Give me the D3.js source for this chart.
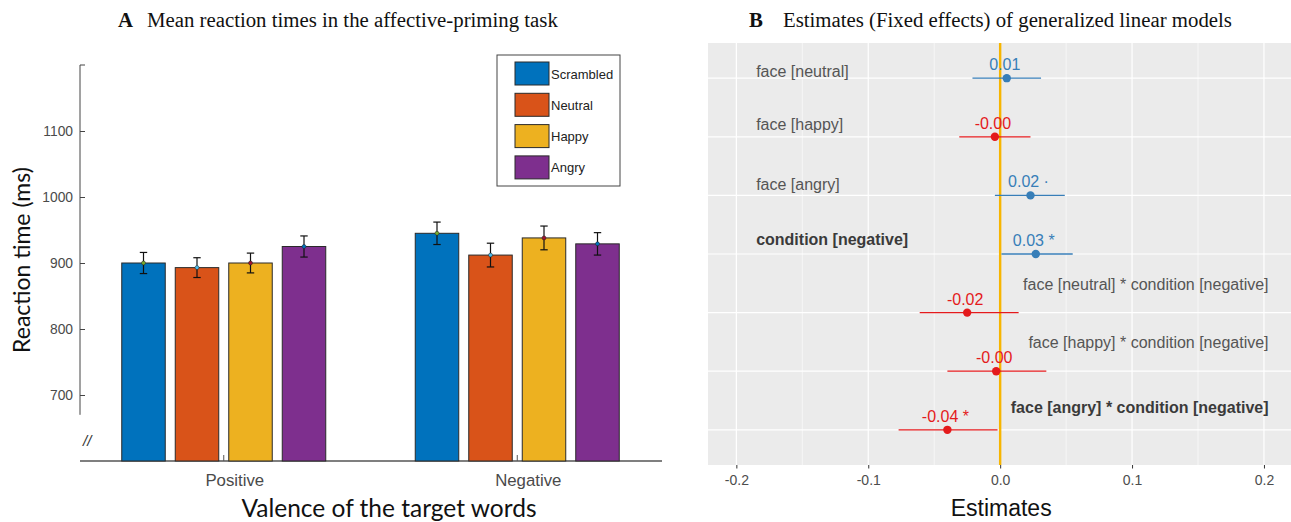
<!DOCTYPE html>
<html>
<head>
<meta charset="utf-8">
<script src="https://cdn.jsdelivr.net/npm/d3@7"></script>
<style>
  body { margin: 0; background: #fff; }
  svg { display: block; }
</style>
</head>
<body>
<svg id="svg_1" width="1291" height="522"></svg>
<script>
// ---- panel A data ----
const groups = ['Positive', 'Negative'];
const conditions = ['Scrambled', 'Neutral', 'Happy', 'Angry'];
const rtPositive = [900, 893, 900, 925];
const rtNegative = [945, 912, 938, 929];
const sePositive = [16, 15, 15, 16];
const seNegative = [17, 18, 18, 17];
const rtTicks = [700, 800, 900, 1000, 1100];

// ---- panel B data ----
const terms = [
  'face [neutral]', 'face [happy]', 'face [angry]', 'condition [negative]',
  'face [neutral] * condition [negative]', 'face [happy] * condition [negative]',
  'face [angry] * condition [negative]'
];
const estimates = [0.005, -0.004, 0.023, 0.027, -0.025, -0.003, -0.040];
const ciLow = [-0.021, -0.031, -0.004, 0.001, -0.061, -0.040, -0.077];
const ciHigh = [0.031, 0.023, 0.049, 0.055, 0.014, 0.035, -0.002];
const estLabels = ['0.01', '-0.00', '0.02 \u00b7', '0.03 *', '-0.02', '-0.00', '-0.04 *'];
const boldTerms = [false, false, false, true, false, false, true];
const estTicks = [-0.2, -0.1, 0, 0.1, 0.2];
const estMinor = [-0.15, -0.05, 0.05, 0.15];

const svg = d3.select('#svg_1');
const sans = "'Liberation Sans', Arial, sans-serif";
const serif = "'Liberation Serif', 'Times New Roman', serif";

function barChart() {
  const barColor = d3.scaleOrdinal().domain(conditions)
    .range(['#0072BD', '#D95319', '#EDB120', '#7E2F8E']);
  const dotColor = d3.scaleOrdinal().domain(conditions)
    .range(['#77AC30', '#4DBEEE', '#A2142F', '#0072BD']);

  const rows = [];
  groups.forEach((gName, i) => {
    const vals = i === 0 ? rtPositive : rtNegative;
    const ses = i === 0 ? sePositive : seNegative;
    conditions.forEach((c, j) => rows.push({group: gName, cond: c, rt: vals[j], se: ses[j]}));
  });

  const x = d3.scaleBand().domain(groups).range([77, 664]);
  const xIn = d3.scaleBand().domain(conditions).range([-102, 102]).paddingInner(0.187);
  const y = d3.scaleLinear().domain([600, 1200]).range([461, 65]);

  const g = svg.append('g');

  // y axis with break
  const yAxisG = g.append('g')
    .attr('transform', 'translate(80,0)')
    .call(d3.axisLeft(y).tickValues(rtTicks).tickFormat(d3.format('d'))
      .tickSizeInner(-5).tickSizeOuter(0).tickPadding(7));
  yAxisG.select('.domain').remove();
  yAxisG.selectAll('.tick line').attr('stroke', '#444');
  yAxisG.selectAll('.tick text')
    .style('font-family', sans)
    .style('font-size', '13.8px')
    .attr('fill', '#4a4a4a');
  yAxisG.append('path')
    .attr('d', `M5,${y(1200)}H0V${y(670)}`)
    .attr('fill', 'none')
    .attr('stroke', '#444');

  g.append('text')
    .attr('x', 83).attr('y', 446)
    .style('font-family', sans)
    .style('font-size', '15px')
    .style('font-style', 'italic')
    .attr('fill', '#333')
    .text('//');

  // x axis
  const xAxisG = g.append('g')
    .attr('transform', `translate(0,${y(600)})`)
    .call(d3.axisBottom(x).tickSizeInner(-6).tickSizeOuter(0).tickPadding(13));
  xAxisG.select('.domain').remove();
  xAxisG.append('line')
    .attr('x1', 80).attr('x2', 662)
    .attr('stroke', '#555').attr('stroke-width', 1.3);
  xAxisG.selectAll('.tick line').attr('stroke', '#555');
  xAxisG.selectAll('.tick text')
    .attr('dx', 11)
    .style('font-family', sans)
    .style('font-size', '16.8px')
    .attr('fill', '#4a4a4a');

  // bars
  const gx = d => x(d.group) + x.bandwidth() / 2 + xIn(d.cond);
  g.selectAll('rect.bar').data(rows)
    .enter().append('rect')
      .attr('class', 'bar')
      .attr('x', gx)
      .attr('y', d => y(d.rt))
      .attr('width', xIn.bandwidth())
      .attr('height', d => y(600) - y(d.rt))
      .attr('fill', d => barColor(d.cond))
      .attr('stroke', '#2a2a2a')
      .attr('stroke-width', 1);

  // error bars
  const eb = g.selectAll('g.err').data(rows)
    .enter().append('g')
      .attr('class', 'err')
      .attr('transform', d => `translate(${gx(d) + xIn.bandwidth() / 2},0)`);
  eb.append('line')
    .attr('y1', d => y(d.rt + d.se)).attr('y2', d => y(d.rt - d.se))
    .attr('stroke', '#111').attr('stroke-width', 1.2);
  eb.append('line')
    .attr('x1', -3.7).attr('x2', 3.7)
    .attr('y1', d => y(d.rt + d.se)).attr('y2', d => y(d.rt + d.se))
    .attr('stroke', '#111').attr('stroke-width', 1.2);
  eb.append('line')
    .attr('x1', -3.7).attr('x2', 3.7)
    .attr('y1', d => y(d.rt - d.se)).attr('y2', d => y(d.rt - d.se))
    .attr('stroke', '#111').attr('stroke-width', 1.2);
  eb.append('circle')
    .attr('cy', d => y(d.rt)).attr('r', 2)
    .attr('fill', d => dotColor(d.cond))
    .attr('stroke', '#222').attr('stroke-width', 0.5);

  // legend
  const lg = g.append('g').attr('transform', 'translate(497,55)');
  lg.append('rect')
    .attr('width', 123).attr('height', 131)
    .attr('fill', '#fff').attr('stroke', '#444');
  const li = lg.selectAll('g.item').data(conditions)
    .enter().append('g')
      .attr('class', 'item')
      .attr('transform', (d, i) => `translate(18,${7 + i * 31.3})`);
  li.append('rect')
    .attr('width', 34).attr('height', 23)
    .attr('fill', d => barColor(d))
    .attr('stroke', '#2a2a2a');
  li.append('text')
    .attr('x', 36).attr('y', 12).attr('dy', '0.35em')
    .style('font-family', sans)
    .style('font-size', '13px')
    .attr('fill', '#222')
    .text(d => d);

  // axis labels and title
  g.append('text')
    .attr('transform', `translate(30,260) rotate(-90)`)
    .attr('text-anchor', 'middle')
    .style('font-family', 'Lato, sans-serif')
    .style('font-size', '23px')
    .attr('fill', '#111')
    .text('Reaction time (ms)');

  g.append('text')
    .attr('x', 389).attr('y', 517)
    .attr('text-anchor', 'middle')
    .style('font-family', 'Lato, sans-serif')
    .style('font-size', '24.5px')
    .attr('fill', '#111')
    .text('Valence of the target words');

  const t = g.append('text')
    .attr('y', 27)
    .style('font-family', serif)
    .style('font-size', '20.8px')
    .attr('fill', '#111');
  t.append('tspan').attr('x', 118).style('font-weight', 'bold').text('A');
  t.append('tspan').attr('x', 147).text('Mean reaction times in the affective-priming task');
}

function forestPlot() {
  const left = 708, right = 1291, top = 43, bottom = 465;
  const xs = d3.scaleLinear().domain([-0.2215, 0.2205]).range([left, right]);
  const ys = d3.scalePoint().domain(terms).range([top, bottom]).padding(0.6);
  const col = d => d < 0 ? '#E41A1C' : '#377EB8';

  const g = svg.append('g');

  g.append('rect')
    .attr('x', left).attr('y', top)
    .attr('width', right - left).attr('height', bottom - top)
    .attr('fill', '#EBEBEB');

  g.selectAll('line.minor').data(estMinor)
    .enter().append('line')
      .attr('x1', d => xs(d)).attr('x2', d => xs(d))
      .attr('y1', top).attr('y2', bottom)
      .attr('stroke', '#fff').attr('stroke-width', 0.6);

  g.selectAll('line.vmajor').data(estTicks)
    .enter().append('line')
      .attr('x1', d => xs(d)).attr('x2', d => xs(d))
      .attr('y1', top).attr('y2', bottom)
      .attr('stroke', '#fff').attr('stroke-width', 1.2);

  g.selectAll('line.hmajor').data(terms)
    .enter().append('line')
      .attr('x1', left).attr('x2', right)
      .attr('y1', d => ys(d)).attr('y2', d => ys(d))
      .attr('stroke', '#fff').attr('stroke-width', 1.2);

  const xAxisG = g.append('g')
    .attr('transform', `translate(0,${bottom})`)
    .call(d3.axisBottom(xs).tickValues(estTicks)
      .tickSizeInner(3.5).tickSizeOuter(0).tickPadding(7));
  xAxisG.select('.domain').remove();
  xAxisG.selectAll('.tick line').attr('stroke', '#333');
  xAxisG.selectAll('.tick text')
    .style('font-family', sans)
    .style('font-size', '14px')
    .attr('fill', '#4D4D4D')
    .text(d => d3.format('.1f')(d).replace('\u2212', '-'));

  g.append('line')
    .attr('x1', xs(0)).attr('x2', xs(0))
    .attr('y1', top).attr('y2', bottom)
    .attr('stroke', '#F7B500').attr('stroke-width', 2.4);

  const rows = terms.map((t, i) => ({
    term: t, est: estimates[i], lo: ciLow[i], hi: ciHigh[i], lab: estLabels[i], bold: boldTerms[i]
  }));

  g.selectAll('line.ci').data(rows)
    .enter().append('line')
      .attr('x1', d => xs(d.lo)).attr('x2', d => xs(d.hi))
      .attr('y1', d => ys(d.term)).attr('y2', d => ys(d.term))
      .attr('stroke', d => col(d.est)).attr('stroke-width', 1.3);

  g.selectAll('circle.pt').data(rows)
    .enter().append('circle')
      .attr('cx', d => xs(d.est)).attr('cy', d => ys(d.term))
      .attr('r', 4.2)
      .attr('fill', d => col(d.est));

  g.selectAll('text.val').data(rows)
    .enter().append('text')
      .attr('x', d => xs(d.est) - 2)
      .attr('y', d => ys(d.term) - 13.5)
      .attr('dy', '0.35em')
      .attr('text-anchor', 'middle')
      .style('font-family', sans)
      .style('font-size', '16px')
      .attr('fill', d => col(d.est))
      .text(d => d.lab);

  // term labels sit inside the panel: first four on the left, interactions on the right
  const labelDy = [-7, -12, -11, -15, -28, -29, -22];
  g.selectAll('text.term').data(rows)
    .enter().append('text')
      .attr('x', (d, i) => i < 4 ? xs(-0.185) : xs(0.2035))
      .attr('y', (d, i) => ys(d.term) + labelDy[i])
      .attr('dy', '0.35em')
      .attr('text-anchor', (d, i) => i < 4 ? 'start' : 'end')
      .style('font-family', sans)
      .style('font-size', '16px')
      .style('font-weight', d => d.bold ? 'bold' : 'normal')
      .attr('fill', d => d.bold ? '#3a3a3a' : '#555')
      .text(d => d.term);

  g.append('text')
    .attr('x', xs(0) + 1).attr('y', 508).attr('dy', '0.35em')
    .attr('text-anchor', 'middle')
    .style('font-family', sans)
    .style('font-size', '23px')
    .attr('fill', '#111')
    .text('Estimates');

  const t = g.append('text')
    .attr('y', 27)
    .style('font-family', serif)
    .style('font-size', '20.8px')
    .attr('fill', '#111');
  t.append('tspan').attr('x', 749).style('font-weight', 'bold').text('B');
  t.append('tspan').attr('x', 783).text('Estimates (Fixed effects) of generalized linear models');
}

barChart();
forestPlot();
</script>
</body>
</html>
